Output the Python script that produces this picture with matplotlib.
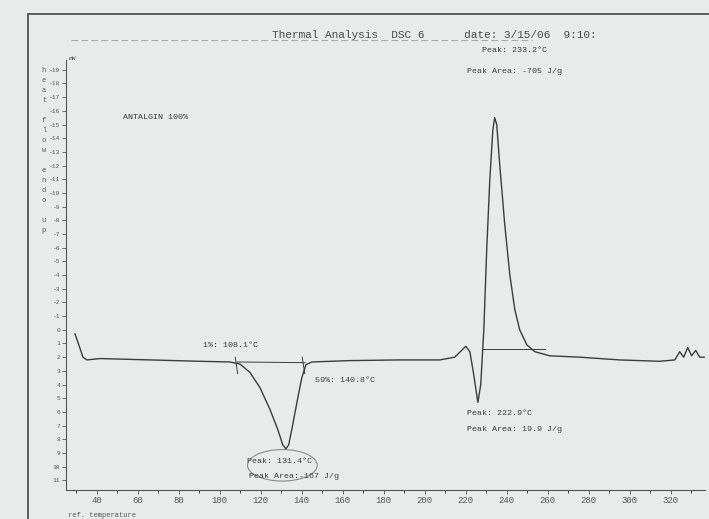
import numpy as np
import matplotlib
matplotlib.use("Agg")
import matplotlib.pyplot as plt
from matplotlib.patches import Ellipse, Rectangle

# DSC trace (temperature in C, heat flow in mW)
temp = [29.3, 31.2, 33.2, 35.1, 41.5, 65.9, 90.2, 104.9, 109.8, 114.6,
        119.5, 124.4, 128.3, 130.7, 132.2, 133.6, 135.6, 138.0, 140.0, 142.0,
        144.9, 163.4, 187.8, 207.3, 214.6, 218.0, 220.0, 222.0, 223.9, 225.9,
        227.3, 228.8, 230.2, 231.7, 233.2, 234.1, 235.1, 236.6, 239.0, 241.5,
        243.9, 246.3, 249.8, 253.7, 261.0, 275.6, 295.1, 314.6, 322.0, 324.4,
        326.3, 328.3, 330.2, 332.2, 334.1, 336.6]
heat = [0.3, 1.1, 2.0, 2.2, 2.1, 2.2, 2.3, 2.35, 2.5, 3.1,
        4.2, 5.8, 7.3, 8.4, 8.7, 8.4, 6.9, 5.0, 3.5, 2.55,
        2.35, 2.25, 2.2, 2.2, 2.0, 1.5, 1.2, 1.6, 3.3, 5.3,
        4.0, 0.0, -5.8, -10.9, -14.6, -15.5, -15.0, -12.0, -7.7, -4.0,
        -1.5, 0.0, 1.1, 1.6, 1.9, 2.0, 2.2, 2.3, 2.2, 1.6,
        2.0, 1.3, 1.9, 1.5, 2.0, 2.0]

x_ticks = [40, 60, 80, 100, 120, 140, 160, 180, 200, 220, 240, 260, 280, 300, 320]
y_ticks = list(range(-19, 12))

onset_T = [108.1, 140.8]
exo_base = ([227.8, 258.5], [1.4, 1.4])

paper = '#e9ebea'
ink = '#3c3c3c'
mono = 'Liberation Mono'

fig = plt.figure(figsize=(7.09, 5.19), dpi=100, facecolor=paper)
ax = fig.add_axes([0.093, 0.056, 0.901, 0.828], facecolor=paper)

ax.plot(temp, heat, color=ink, lw=1.0)

# integration baselines / onset marks
ax.plot([108.5, 141.5], [2.35, 2.4], color=ink, lw=0.7)
for t in onset_T:
    ax.plot([t - 0.6, t + 0.6], [2.0, 3.2], color=ink, lw=0.7)
ax.plot(exo_base[0], exo_base[1], color=ink, lw=0.7)

ax.add_patch(Ellipse((130.5, 9.9), 34, 2.3, fill=False, ec='#8a8a8a', lw=0.8))

ax.set_xlim(24.9, 336.6)
ax.set_ylim(11.7, -19.7)
ax.set_xticks(x_ticks)
ax.set_xticks(np.arange(30, 340, 10), minor=True)
ax.set_yticks(y_ticks)
ax.set_yticklabels([str(v) for v in y_ticks], fontsize=4.5, family=mono, color='#555555')
ax.set_xticklabels([str(v) for v in x_ticks], fontsize=6.5, family=mono, color='#555555')
ax.tick_params(axis='both', colors='#555555', length=3, width=0.6)
ax.tick_params(axis='x', pad=1.5)
ax.tick_params(axis='y', pad=1)
ax.tick_params(axis='x', which='minor', length=2, width=0.5)
for s in ['top', 'right']:
    ax.spines[s].set_visible(False)
for s in ['left', 'bottom']:
    ax.spines[s].set_color('#555555')
    ax.spines[s].set_linewidth(0.8)

tk = dict(family=mono, fontsize=6, color=ink)
ax.text(52.7, -15.5, 'ANTALGIN 100%', va='center', **tk)
ax.text(91.7, 1.17, '1%: 108.1°C', va='center', **tk)
ax.text(146.3, 3.7, '59%: 140.8°C', va='center', **tk)
ax.text(113.2, 9.6, 'Peak: 131.4°C', va='center', **tk)
ax.text(114.1, 10.7, 'Peak Area:-167 J/g', va='center', **tk)
ax.text(227.7, -20.4, 'Peak: 233.2°C', va='center', clip_on=False, **tk)
ax.text(220.5, -18.9, 'Peak Area: -705 J/g', va='center', **tk)
ax.text(220.5, 6.1, 'Peak: 222.9°C', va='center', **tk)
ax.text(220.5, 7.3, 'Peak Area: 19.9 J/g', va='center', **tk)

fig.text(0.097, 0.885, 'mW', family=mono, fontsize=4.5, color='#555555')
for i, ch in enumerate('heat flow endo up'):
    fig.text(0.062, 0.862 - i * 0.0193, ch, family=mono, fontsize=5,
             color='#555555', ha='center')
fig.text(0.096, 0.004, 'ref. temperature', family=mono, fontsize=5, color='#555555')

fig.text(0.384, 0.933, 'Thermal Analysis  DSC 6      date: 3/15/06  9:10:',
         family=mono, fontsize=8, color='#4a4a4a', va='center')
fig.lines.append(plt.Line2D([0.1, 0.75], [0.922, 0.922], transform=fig.transFigure,
                            color='#9a9a9a', lw=0.6, ls=(0, (8, 4))))
fig.patches.append(Rectangle((0.04, -0.01), 1.0, 0.983, transform=fig.transFigure,
                             fill=False, ec='#444444', lw=1.2))

fig.savefig('out.png', dpi=100, facecolor=paper)
